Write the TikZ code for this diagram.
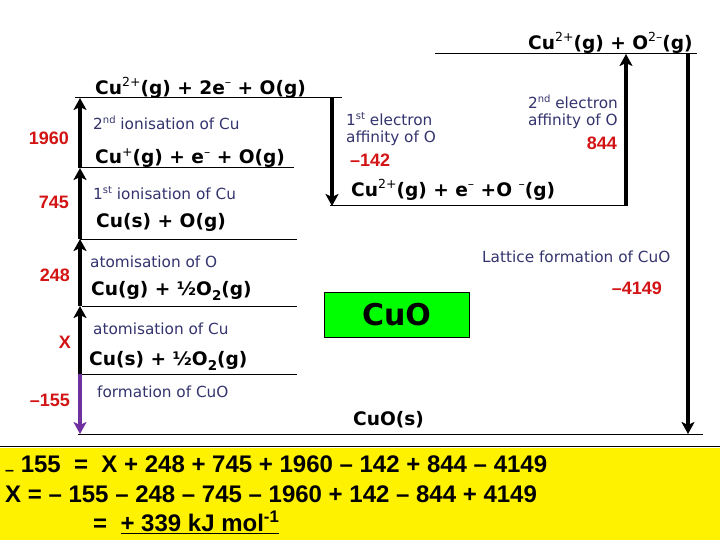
\documentclass[tikz,border=0pt]{standalone}
\usepackage{fontspec}
\setmainfont{DejaVu Sans}
\newfontfamily\arialf{Liberation Sans}
\usetikzlibrary{arrows.meta}
\definecolor{lblblue}{RGB}{51,51,110}
\definecolor{numred}{RGB}{210,20,20}
\definecolor{purp}{RGB}{112,48,160}
\definecolor{cuogreen}{RGB}{0,255,0}
\newcommand\spx[1]{\raisebox{0.42em}{\fontsize{12.5}{12.5}\selectfont\mdseries #1}}
\newcommand\sbx[1]{\raisebox{-0.3em}{\fontsize{13.5}{13.5}\selectfont #1}}
\newcommand\ordx[1]{\raisebox{0.42em}{\fontsize{10}{10}\selectfont #1}}
\tikzset{
  chem/.style={anchor=west, inner sep=0pt, font=\fontsize{18.6}{20}\selectfont\bfseries},
  lbl/.style={anchor=west, inner sep=0pt, text=lblblue, font=\fontsize{15.3}{17}\selectfont},
  num/.style={anchor=east, inner sep=0pt, text=numred, font=\arialf\fontsize{18}{20}\selectfont\bfseries},
  level/.style={line width=1pt},
  arr/.style={line width=3.2pt, -{Stealth[length=12pt,width=13pt,inset=3pt]}},
  sumtext/.style={anchor=west, inner sep=0pt, font=\arialf\fontsize{24}{26}\selectfont\bfseries},
}
\begin{document}
\begin{tikzpicture}[x=1pt,y=-1pt]
\useasboundingbox (0,0) rectangle (720,540);
% yellow box
\fill[yellow] (0,448) rectangle (720,540);
\draw[line width=1.5pt] (0,446.5) -- (720,446.5);
% level lines
\coordinate (L1a) at (75,98);   \coordinate (L1b) at (342,98);
\coordinate (L2a) at (80,168);  \coordinate (L2b) at (294,168);
\coordinate (L3a) at (80,239);  \coordinate (L3b) at (297,239);
\coordinate (L4a) at (82,306);  \coordinate (L4b) at (297,306);
\coordinate (L5a) at (80,374);  \coordinate (L5b) at (297,374);
\coordinate (L6a) at (78,434);  \coordinate (L6b) at (703,434);
\coordinate (R1a) at (330,206); \coordinate (R1b) at (627,206);
\coordinate (T1a) at (435,54);  \coordinate (T1b) at (697,54);
\foreach \a/\b in {L1a/L1b,L2a/L2b,L3a/L3b,L4a/L4b,L5a/L5b,L6a/L6b,R1a/R1b,T1a/T1b}
  \draw[level] (\a) -- (\b);
% arrow points
\coordinate (A0) at (80,374);
\coordinate (A1) at (80,306);
\coordinate (A2) at (80,239);
\coordinate (A3) at (80,168);
\coordinate (A4) at (80,98);
\coordinate (A5) at (80,434);
\coordinate (E1s) at (332,98);
\coordinate (E1e) at (332,206);
\coordinate (E2s) at (626,206);
\coordinate (E2e) at (626,54);
\coordinate (LEs) at (688,54);
\coordinate (LEe) at (688,434);
\draw[arr] (A0) -- (A1);
\draw[arr] (A1) -- (A2);
\draw[arr] (A2) -- (A3);
\draw[arr] (A3) -- (A4);
\draw[arr, purp] (A0) -- (A5);
\draw[arr] (E1s) -- (E1e);
\draw[arr] (E2s) -- (E2e);
\draw[arr] (LEs) -- (LEe);
% chemical labels
\node[chem] (c1) at (95,88)  {Cu\spx{2+}(g) + 2e\spx{–} + O(g)};
\node[chem] (c2) at (95,158) {Cu\spx{+}(g) + e\spx{–} + O(g)};
\node[chem] (c3) at (96,222) {Cu(s) + O(g)};
\node[chem] (c4) at (91,291) {Cu(g) + ½O\sbx{2}(g)};
\node[chem] (c5) at (89,361) {Cu(s) + ½O\sbx{2}(g)};
\node[chem] (c6) at (528,43) {Cu\spx{2+}(g) + O\spx{2–}(g)};
\node[chem] (c7) at (351,190) {Cu\spx{2+}(g) + e\spx{–} +O \spx{–}(g)};
\node[chem] (c8) at (353,420) {CuO(s)};
% blue labels
\node[lbl] (b1) at (93,123) {2\ordx{nd} ionisation of Cu};
\node[lbl] (b2) at (93,193) {1\ordx{st} ionisation of Cu};
\node[lbl] (b3) at (90,262) {atomisation of O};
\node[lbl] (b4) at (93,329) {atomisation of Cu};
\node[lbl] (b5) at (97,392) {formation of CuO};
\node[lbl, align=left] (b6) at (346,129) {1\ordx{st} electron\\affinity of O};
\node[lbl, align=left, anchor=east] (b7) at (618,112) {2\ordx{nd} electron\\affinity of O};
\node[lbl] (b8) at (482,257) {Lattice formation of CuO};
% numbers
\node[num] (n1) at (69,138) {1960};
\node[num] (n2) at (69,202) {745};
\node[num] (n3) at (70,275) {248};
\node[num] (n4) at (71,342) {X};
\node[num] (n5) at (70,400) {–155};
\node[num, anchor=west] (n6) at (350,160) {–142};
\node[num] (n7) at (617,143) {844};
\node[num] (n8) at (662,288) {–4149};
% green box
\node[draw=black, line width=1pt, fill=cuogreen, minimum width=145pt, minimum height=45pt,
      font=\fontsize{30}{32}\selectfont\bfseries] (cuo) at (396.5,314.5) {CuO};
% sums
\node[sumtext] (s1) at (5,466) {\raisebox{-3pt}{\fontsize{16}{16}\selectfont –} 155 \ = \ X + 248 + 745 + 1960 – 142 + 844 – 4149};
\node[sumtext] (s2) at (5,494) {X = – 155 – 248 – 745 – 1960 + 142 – 844 + 4149};
\node[sumtext] (s3) at (93,522) {= \ \underline{+ 339 kJ mol\textsuperscript{-1}}};
\end{tikzpicture}
\end{document}
